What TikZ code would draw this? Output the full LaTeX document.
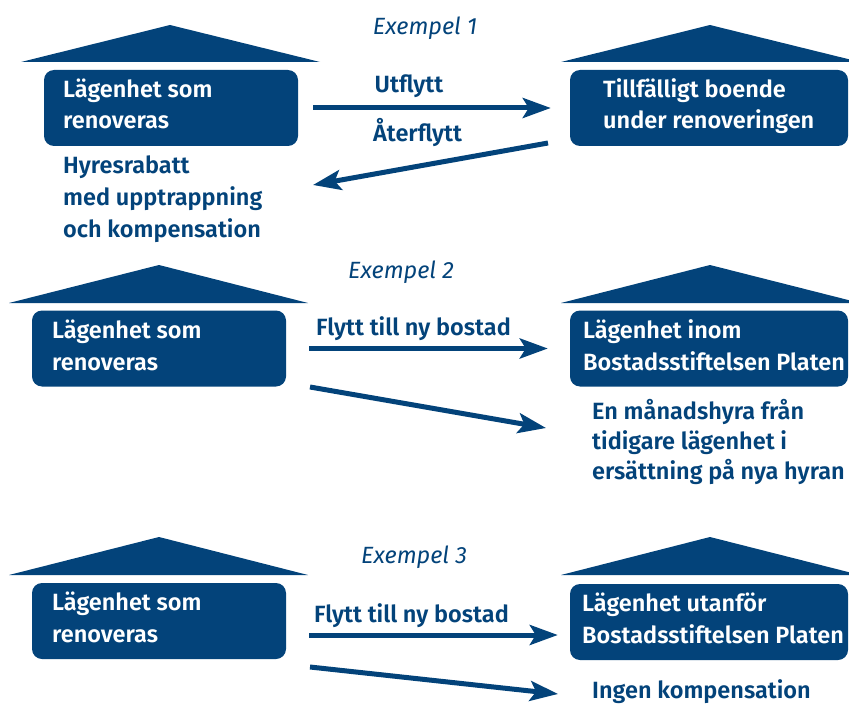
\documentclass[tikz,border=0pt]{standalone}
\usepackage{fontspec}
\setmainfont{Fira Sans}[BoldFont={Fira Sans SemiBold}]
\usetikzlibrary{arrows.meta}
\definecolor{platen}{RGB}{3,67,122}
\tikzset{
  lbox/.style={fill=platen, rounded corners=10pt, minimum width=254pt, minimum height=76pt, inner sep=0pt},
  rbox/.style={fill=platen, rounded corners=10pt, minimum width=278pt, minimum height=76pt, inner sep=0pt},
  boxtext/.style={text=white, font=\bfseries\fontsize{23.5}{32}\selectfont, align=left, inner sep=0pt, anchor=base west},
  note/.style={text=platen, font=\bfseries\fontsize{23.5}{32}\selectfont, align=left, inner sep=0pt, anchor=base west},
  example/.style={text=platen, font=\itshape\fontsize{23.5}{26}\selectfont, inner sep=0pt, anchor=base},
  flow/.style={platen, line width=5pt, -{Stealth[length=28pt, width=20pt, inset=6pt]}}
}
\begin{document}
\begin{tikzpicture}[x=1pt, y=-1pt]
  \useasboundingbox (0,0) rectangle (849,706);
  \clip (0,0) rectangle (849,706);
  % Exempel 1
  \node[example] (ex1) at (425,35) {Exempel 1};
  \fill[platen] (21,62) -- (170,25) -- (320,62) -- cycle;
  \fill[platen] (561,62) -- (710,25) -- (860,62) -- cycle;
  \node[lbox] (b1l) at (171,108) {};
  \node[rbox] (b1r) at (709,108) {};
  % multi-line texts sit on their last baseline
  \node[boxtext] (t1l) at (63,129) {Lägenhet som\\renoveras};
  \node[boxtext] (t1r) at (603,129) {Tillfälligt boende\\under renoveringen};
  \node[note] (n1) at (63,237) {Hyresrabatt\\med upptrappning\\och kompensation};
  \node[note, anchor=base] (ut) at (409,93) {Utflytt};
  \node[note] (ater) at (373,142) {Återflytt};
  \coordinate (a1s) at (548,143);
  \coordinate (a1e) at (313,185);
  \draw[flow] ([xshift=15pt]b1l.east) -- ([xshift=-19pt]b1r.west);
  \draw[flow] (a1s) -- (a1e);
  % Exempel 2
  \node[example] (ex2) at (401,278) {Exempel 2};
  \fill[platen] (9,303) -- (159,265) -- (308,303) -- cycle;
  \fill[platen] (561,303) -- (710,265) -- (860,303) -- cycle;
  \node[lbox] (b2l) at (159,348.5) {};
  \node[rbox] (b2r) at (709,348.5) {};
  \node[boxtext] (t2l) at (52,370) {Lägenhet som\\renoveras};
  \node[boxtext] (t2r) at (583,370) {Lägenhet inom\\Bostadsstiftelsen Platen};
  \node[note] (fl2) at (316,335) {Flytt till ny bostad};
  \node[note, font=\bfseries\fontsize{23.5}{30}\selectfont] (n2) at (592,479) {En månadshyra från\\tidigare lägenhet i\\ersättning på nya hyran};
  \coordinate (a2s) at (310,387);
  \coordinate (a2e) at (546,428);
  \draw[flow] ([xshift=23pt]b2l.east) -- ([xshift=-22pt]b2r.west);
  \draw[flow] (a2s) -- (a2e);
  % Exempel 3
  \node[example] (ex3) at (414,563) {Exempel 3};
  \fill[platen] (9,575) -- (159,537) -- (308,575) -- cycle;
  \fill[platen] (561,575) -- (710,537) -- (860,575) -- cycle;
  \node[lbox] (b3l) at (159,621) {};
  \node[rbox] (b3r) at (709,622) {};
  \node[boxtext] (t3l) at (52,642) {Lägenhet som\\renoveras};
  \node[boxtext] (t3r) at (582,643) {Lägenhet utanför\\Bostadsstiftelsen Platen};
  \node[note] (fl3) at (314,622) {Flytt till ny bostad};
  \node[note] (n3) at (592,698) {Ingen kompensation};
  \coordinate (a3s) at (310,667);
  \coordinate (a3e) at (558,694);
  \draw[flow] ([xshift=23pt]b3l.east|-0,635) -- ([xshift=-12pt]b3r.west|-0,635);
  \draw[flow] (a3s) -- (a3e);
\end{tikzpicture}
\end{document}
